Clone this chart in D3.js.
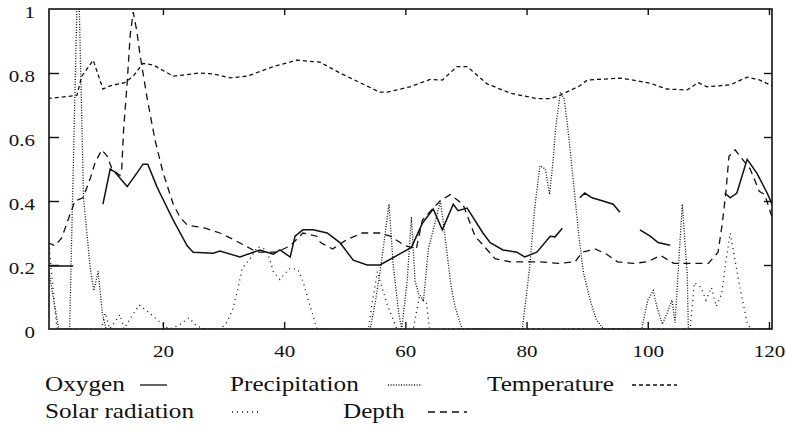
<!DOCTYPE html>
<html>
<head>
<meta charset="utf-8">
<script src="https://cdn.jsdelivr.net/npm/d3@7"></script>
</head>
<body style="margin:0">
<div id="wrapper"></div>
<script>
// values (x = sample number, y = scaled 0..1)
const oxygenX = [1.2, 5.2, null, 10.1, 11.3, 12.1, 14.1, 15.7, 16.7, 17.5, 19.0, 19.5, 21.7, 24.0, 25.0, 28.3, 29.4, 32.7, 36.0, 38.2, 39.3, 41.0, 41.8, 43.1, 44.8, 47.1, 49.2, 51.4, 53.7, 55.8, 59.6, 61.0, 62.8, 64.6, 66.1, 67.9, 68.7, 70.2, 72.8, 74.0, 76.1, 78.4, 79.7, 81.7, 83.9, 84.7, 85.9, null, 88.8, 89.6, 90.8, 92.6, 94.3, 95.4, null, 98.7, 100.4, 101.7, 103.7, null, 112.7, 113.6, 114.7, 115.2, 116.4, 118.0, 119.7, 120.5]
const oxygenY = [0.197, 0.197, null, 0.39, 0.50, 0.49, 0.445, 0.487, 0.515, 0.515, 0.445, 0.425, 0.34, 0.26, 0.24, 0.237, 0.244, 0.225, 0.247, 0.234, 0.247, 0.225, 0.29, 0.31, 0.31, 0.30, 0.27, 0.215, 0.20, 0.20, 0.24, 0.255, 0.33, 0.375, 0.31, 0.39, 0.37, 0.378, 0.30, 0.27, 0.247, 0.24, 0.225, 0.24, 0.29, 0.288, 0.315, null, 0.41, 0.425, 0.41, 0.40, 0.39, 0.365, null, 0.31, 0.29, 0.27, 0.262, null, 0.425, 0.41, 0.425, 0.456, 0.53, 0.487, 0.425, 0.39]

const precipX = [1, 2.8, 4.6, 5.8, 6.2, 6.9, 8.0, 8.6, 9.3, 10.0, 10.6, 54.2, 55.0, 56.0, 57.3, 58.0, 58.9, 59.4, 60.3, 61.0, 61.6, 62.2, 63.0, 63.8, 65.8, 66.6, 67.5, 68.2, 69.0, 69.4, 79.3, 80.5, 81.3, 82.2, 83.1, 83.8, 84.4, 84.8, 85.6, 86.2, 86.8, 87.3, 88.1, 88.7, 89.4, 90.5, 91.5, 92.7, 99.0, 100.0, 100.9, 101.5, 102.4, 103.2, 104.0, 104.5, 105.0, 105.7, 106.5, 106.7, 120.5]
const precipY = [0.2, 0, 0, 1.0, 1.0, 0.41, 0.19, 0.12, 0.18, 0.05, 0, 0, 0.08, 0.2, 0.39, 0.2, 0.05, 0, 0.15, 0.35, 0.15, 0.11, 0.09, 0.25, 0.40, 0.28, 0.14, 0.07, 0.02, 0, 0, 0.19, 0.37, 0.51, 0.50, 0.42, 0.53, 0.63, 0.74, 0.72, 0.63, 0.54, 0.39, 0.28, 0.175, 0.09, 0.03, 0, 0, 0.09, 0.12, 0.07, 0.015, 0.05, 0.09, 0.02, 0.175, 0.39, 0.175, 0, 0]

const temperatureX = [1, 5.8, 6.6, 8.5, 10.1, 11.3, 13.7, 15.1, 16.7, 18.4, 21.7, 26.1, 28.3, 31.1, 33.9, 38.2, 42.1, 45.9, 49.2, 52.5, 55.8, 57, 60.8, 64.1, 66.1, 68.5, 70.2, 73.5, 77.3, 81.7, 83.9, 85.5, 88.8, 90, 95.4, 97.6, 100.4, 103.1, 106.5, 108.3, 109.8, 113.6, 116.4, 118.5, 120.5]
const temperatureY = [0.72, 0.73, 0.79, 0.84, 0.75, 0.76, 0.77, 0.79, 0.83, 0.825, 0.79, 0.80, 0.797, 0.785, 0.79, 0.82, 0.84, 0.834, 0.80, 0.77, 0.74, 0.74, 0.757, 0.78, 0.778, 0.82, 0.82, 0.766, 0.737, 0.72, 0.72, 0.73, 0.76, 0.778, 0.784, 0.778, 0.768, 0.75, 0.747, 0.77, 0.757, 0.763, 0.787, 0.778, 0.76]

const solarX = [1, 2.5, 9.8, 10.5, 11.2, 12.0, 12.9, 13.6, 14.5, 16.1, 17.8, 19.6, 21.0, 22.5, 24.3, 25.5, 27.0, 29.5, 30.5, 31.5, 32.3, 33.1, 34.6, 35.6, 36.8, 37.6, 38.2, 39.3, 40.2, 41.0, 42.3, 43.1, 44.0, 44.8, 45.4, 53.9, 54.6, 55.4, 56.0, 57.1, 58.2, 58.6, 61.3, 62.3, 63.5, 64.0, 107.0, 107.7, 108.8, 109.6, 110.5, 111.3, 112.2, 112.8, 113.6, 114.4, 115.2, 116.4, 117.0, 120.5]
const solarY = [0.3, 0, 0, 0.05, 0, 0.02, 0.045, 0, 0.03, 0.075, 0.05, 0.02, 0, 0.01, 0.035, 0.01, 0, 0, 0.02, 0.06, 0.12, 0.19, 0.225, 0.257, 0.25, 0.22, 0.18, 0.155, 0.175, 0.19, 0.185, 0.15, 0.09, 0.04, 0, 0, 0.09, 0.18, 0.14, 0.07, 0.02, 0, 0, 0.1, 0.08, 0, 0, 0.145, 0.13, 0.09, 0.13, 0.07, 0.11, 0.2, 0.30, 0.215, 0.13, 0.02, 0, 0]

const depthX = [1, 2.2, 3.3, 4.7, 5.5, 6.8, 8.0, 8.8, 9.9, 10.8, 11.6, 12.9, 13.2, 13.5, 14.1, 14.6, 15.1, 15.7, 16.2, 17.4, 18.7, 20.0, 21.7, 22.8, 24.0, 25.5, 27.0, 29.4, 31.6, 33.9, 35.5, 38.8, 41.0, 43.1, 45.4, 46.0, 48.0, 50.4, 52.9, 55.8, 57.5, 60.0, 61.8, 62.8, 65.7, 67.4, 69.5, 71.5, 74.8, 77.3, 80.0, 82.2, 85.2, 88.0, 89.2, 91.3, 93.1, 95.0, 97.6, 100.0, 102.1, 104.3, 107.3, 110.0, 111.6, 112.3, 112.9, 113.4, 114.4, 116.9, 118.4, 119.3, 120.5]
const depthY = [0.27, 0.26, 0.285, 0.36, 0.40, 0.41, 0.47, 0.52, 0.56, 0.54, 0.50, 0.48, 0.50, 0.62, 0.77, 0.92, 0.99, 0.93, 0.86, 0.72, 0.59, 0.49, 0.39, 0.35, 0.325, 0.32, 0.315, 0.30, 0.28, 0.257, 0.24, 0.24, 0.26, 0.30, 0.29, 0.27, 0.25, 0.28, 0.30, 0.30, 0.29, 0.26, 0.25, 0.34, 0.40, 0.42, 0.39, 0.29, 0.22, 0.21, 0.21, 0.21, 0.205, 0.21, 0.24, 0.25, 0.235, 0.21, 0.205, 0.21, 0.23, 0.205, 0.205, 0.205, 0.24, 0.33, 0.43, 0.54, 0.56, 0.50, 0.43, 0.42, 0.35]

const xTicks = [20, 40, 60, 80, 100, 120]
const yTicks = [0, 0.2, 0.4, 0.6, 0.8, 1]

const seriesNames = ["Oxygen", "Precipitation", "Temperature", "Solar radiation", "Depth"]

function drawChart() {
  const zip = (xs, ys) => xs.map((x, i) => [x, ys[i]])
  const series = [
    { name: seriesNames[0], points: zip(oxygenX, oxygenY), dash: null },
    { name: seriesNames[1], points: zip(precipX, precipY), dash: "1,1.6" },
    { name: seriesNames[2], points: zip(temperatureX, temperatureY), dash: "4,3" },
    { name: seriesNames[3], points: zip(solarX, solarY), dash: "1,4" },
    { name: seriesNames[4], points: zip(depthX, depthY), dash: "7,5" },
  ]

  // 1. dimensions
  let dimensions = {
    width: 786,
    height: 438,
    margin: { top: 9, right: 14, bottom: 109, left: 49 },
  }
  dimensions.boundedWidth =
    dimensions.width - dimensions.margin.left - dimensions.margin.right
  dimensions.boundedHeight =
    dimensions.height - dimensions.margin.top - dimensions.margin.bottom

  // the scanned type is a little wider than it is tall
  const font = '"Liberation Serif"'
  const stretch = 1.2

  // 2. canvas
  const wrapper = d3
    .select("#wrapper")
    .append("svg")
    .attr("width", dimensions.width)
    .attr("height", dimensions.height)

  const bounds = wrapper
    .append("g")
    .attr("transform", `translate(${dimensions.margin.left},${dimensions.margin.top})`)

  // 3. scales
  const xScale = d3
    .scaleLinear()
    .domain([1.2, 120.5])
    .range([0, dimensions.boundedWidth])

  const yScale = d3
    .scaleLinear()
    .domain([0, 1])
    .range([dimensions.boundedHeight, 0])

  // 4. lines
  bounds
    .append("clipPath")
    .attr("id", "plot-clip")
    .append("rect")
    .attr("width", dimensions.boundedWidth)
    .attr("height", dimensions.boundedHeight)

  const lineGenerator = d3
    .line()
    .defined((d) => d[0] != null && d[1] != null)
    .x((d) => xScale(d[0]))
    .y((d) => yScale(d[1]))

  bounds
    .append("g")
    .attr("clip-path", "url(#plot-clip)")
    .selectAll("path")
    .data(series)
    .join("path")
    .attr("d", (d) => lineGenerator(d.points))
    .attr("fill", "none")
    .attr("stroke", "#111")
    .attr("stroke-width", (d) => (d.dash ? 1.3 : 1.5))
    .attr("stroke-dasharray", (d) => d.dash)

  // 5. frame and axes
  const styleAxis = (g) => {
    g.attr("font-family", font)
    g.select(".domain").remove()
    g.selectAll(".tick line").attr("stroke", "#111").attr("stroke-width", 1.4)
    g.selectAll("text")
      .attr("fill", "#111")
      .attr("font-family", font)
      .attr("font-size", 17.5)
      .attr("transform", `scale(${stretch},1)`)
  }

  bounds
    .append("g")
    .attr("transform", `translate(0,${dimensions.boundedHeight})`)
    .call(d3.axisBottom(xScale).tickValues(xTicks).tickSize(-7).tickPadding(16).tickFormat(d3.format("d")))
    .call(styleAxis)

  bounds
    .append("g")
    .call(d3.axisTop(xScale).tickValues(xTicks).tickSize(-6).tickFormat(""))
    .call(styleAxis)

  bounds
    .append("g")
    .call(d3.axisLeft(yScale).tickValues(yTicks.slice(1, -1)).tickSize(-10).tickFormat(""))
    .call(styleAxis)

  bounds
    .append("g")
    .call(d3.axisLeft(yScale).tickValues(yTicks).tickSize(0).tickFormat((d) => d3.format("")(d)))
    .call(styleAxis)
    .selectAll("text")
    .attr("x", -14 / stretch)
    .attr("dy", "0.5em")

  bounds
    .append("g")
    .attr("transform", `translate(${dimensions.boundedWidth},0)`)
    .call(d3.axisRight(yScale).tickValues(yTicks.slice(1, -1)).tickSize(-8).tickFormat(""))
    .call(styleAxis)

  bounds
    .append("rect")
    .attr("width", dimensions.boundedWidth)
    .attr("height", dimensions.boundedHeight)
    .attr("fill", "none")
    .attr("stroke", "#111")
    .attr("stroke-width", 1.6)

  // 6. legend
  const legendLayout = [
    { x: 45, y: 391, x1: 140, x2: 167 },
    { x: 230, y: 391, x1: 388, x2: 422 },
    { x: 487, y: 391, x1: 632, x2: 677 },
    { x: 45, y: 418, x1: 232, x2: 262 },
    { x: 343, y: 418, x1: 428, x2: 467 },
  ]

  const legend = wrapper
    .append("g")
    .selectAll("g")
    .data(series)
    .join("g")

  legend
    .append("text")
    .attr("transform", (d, i) => `translate(${legendLayout[i].x},${legendLayout[i].y}) scale(${stretch},1)`)
    .text((d) => d.name)
    .attr("fill", "#111")
    .attr("font-family", font)
    .attr("font-size", 21)

  legend
    .append("line")
    .attr("x1", (d, i) => legendLayout[i].x1)
    .attr("x2", (d, i) => legendLayout[i].x2)
    .attr("y1", (d, i) => legendLayout[i].y - 6)
    .attr("y2", (d, i) => legendLayout[i].y - 6)
    .attr("stroke", "#111")
    .attr("stroke-width", 1.3)
    .attr("stroke-dasharray", (d) => d.dash)
}
drawChart()
</script>
</body>
</html>
